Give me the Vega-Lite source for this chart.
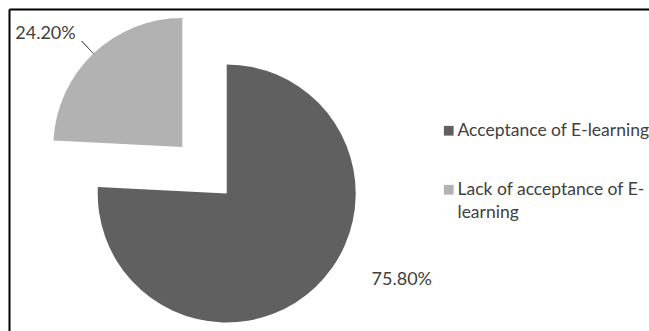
{
  "$schema": "https://vega.github.io/schema/vega-lite/v6.json",
  "width": 642,
  "height": 324,
  "autosize": {"type": "none"},
  "padding": {"left": 9, "top": 9, "right": -2, "bottom": -2},
  "background": "white",
  "config": {"view": {"stroke": null}},
  "data": {
    "values": [
      {"category": "Acceptance of E-learning", "value": 75.8, "label": "75.80%"},
      {"category": "Lack of acceptance of E-learning", "value": 24.2, "label": "24.20%"}
    ]
  },
  "transform": [
    {"stack": "value", "groupby": [], "sort": [{"field": "category", "order": "ascending"}], "as": ["start", "end"]}
  ],
  "layer": [
    {
      "mark": {"type": "point", "opacity": 0},
      "encoding": {
        "x": {"datum": 0, "type": "quantitative", "scale": {"domain": [0, 1]},
              "axis": {"orient": "top", "domainColor": "#000000", "domainWidth": 2, "ticks": false, "labels": false, "grid": false, "title": null}},
        "y": {"datum": 1, "type": "quantitative", "scale": {"domain": [0, 1]},
              "axis": {"orient": "left", "domainColor": "#000000", "domainWidth": 2, "ticks": false, "labels": false, "grid": false, "title": null}}
      }
    },
    {
      "transform": [{"filter": "datum.category === 'Acceptance of E-learning'"}],
      "mark": {"type": "arc", "x": 217.7, "y": 184.5, "outerRadius": 129},
      "encoding": {
        "theta": {"field": "start", "type": "quantitative", "scale": {"domain": [0, 100]}},
        "theta2": {"field": "end"},
        "color": {
          "field": "category", "type": "nominal",
          "scale": {"domain": ["Acceptance of E-learning", "Lack of acceptance of E-learning"], "range": ["#606060", "#b2b2b2"]},
          "legend": {
            "orient": "none", "legendX": 431, "legendY": 113, "title": null,
            "symbolType": "square", "symbolSize": 95, "symbolStrokeWidth": 0,
            "labelFont": "Lato", "labelFontSize": 17.5, "labelColor": "#404040",
            "labelLimit": 400, "labelOffset": 0, "rowPadding": 40, "padding": 0,
            "labelExpr": "datum.label === 'Lack of acceptance of E-learning' ? ['Lack of acceptance of E-', 'learning'] : datum.label",
            "encode": {"labels": {"update": {"lineHeight": {"value": 23}}}}
          }
        }
      }
    },
    {
      "transform": [{"filter": "datum.category === 'Lack of acceptance of E-learning'"}],
      "mark": {"type": "arc", "x": 173.3, "y": 138, "outerRadius": 129},
      "encoding": {
        "theta": {"field": "start", "type": "quantitative", "scale": {"domain": [0, 100]}},
        "theta2": {"field": "end"},
        "color": {"field": "category", "type": "nominal"}
      }
    },
    {
      "transform": [{"filter": "datum.category === 'Lack of acceptance of E-learning'"}],
      "mark": {"type": "arc", "x": 173.3, "y": 138, "innerRadius": 129, "outerRadius": 146, "padAngle": 3.14, "fillOpacity": 0, "stroke": "#595959", "strokeWidth": 1},
      "encoding": {
        "theta": {"field": "start", "type": "quantitative"},
        "theta2": {"field": "end"}
      }
    },
    {
      "mark": {"type": "text", "x": 173.3, "y": 138, "radius": 146, "align": "right", "baseline": "middle", "dx": -6, "dy": -7, "font": "Lato", "fontSize": 18, "color": "#404040"},
      "encoding": {
        "theta": {"field": "value", "type": "quantitative", "stack": true},
        "order": {"field": "category", "type": "ordinal", "sort": "ascending"},
        "detail": {"field": "category", "type": "nominal"},
        "text": {"condition": {"test": "datum.category === 'Lack of acceptance of E-learning'", "field": "label"}, "value": ""}
      }
    },
    {
      "mark": {"type": "text", "x": 217.7, "y": 184.5, "radius": 129, "align": "left", "baseline": "middle", "dx": 56, "dy": -7, "font": "Lato", "fontSize": 18, "color": "#404040"},
      "encoding": {
        "theta": {"field": "value", "type": "quantitative", "stack": true},
        "order": {"field": "category", "type": "ordinal", "sort": "ascending"},
        "detail": {"field": "category", "type": "nominal"},
        "text": {"condition": {"test": "datum.category === 'Acceptance of E-learning'", "field": "label"}, "value": ""}
      }
    }
  ]
}
